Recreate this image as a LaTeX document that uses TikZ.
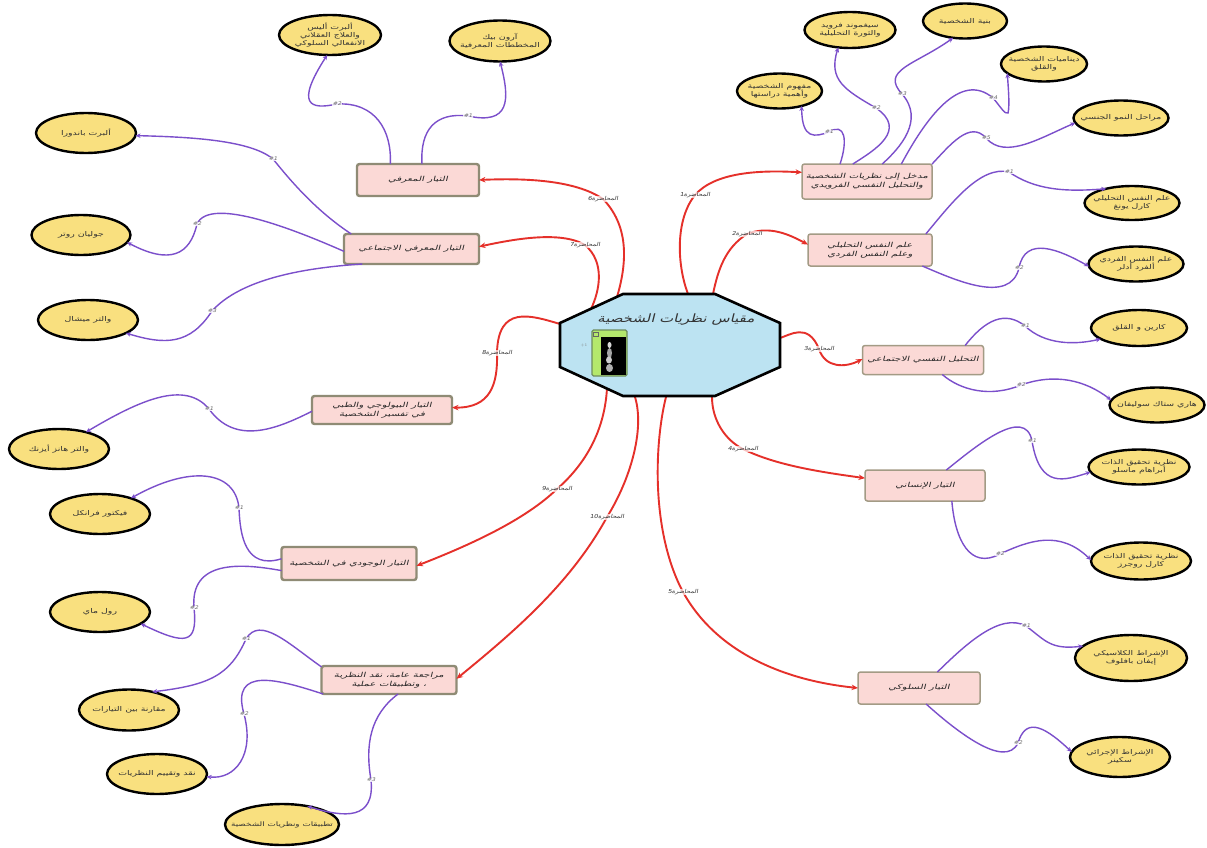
\documentclass[tikz,border=0pt]{standalone}
\usepackage{fontspec}
\usetikzlibrary{shapes.geometric,arrows.meta}
\TeXXeTstate=1
\newfontfamily\arleaf[Script=Arabic,FakeStretch=1.42]{DejaVu Sans}
\newfontfamily\arbox[Script=Arabic,FakeStretch=1.5,FakeSlant=0.25]{DejaVu Sans}
\newfontfamily\arhub[Script=Arabic,FakeStretch=1.3,FakeSlant=0.25]{DejaVu Sans}
\newfontfamily\artiny[Script=Arabic,FakeStretch=1.2,FakeSlant=0.2]{DejaVu Sans}
\newcommand\artxt[1]{\beginR #1\endR}
\newcommand\lectxt[1]{\beginR المحاضرة\beginL #1\endL\endR}
\pgfdeclarelayer{lab}
\pgfsetlayers{main,lab}
\definecolor{hubfill}{HTML}{BCE3F2}
\definecolor{boxfill}{HTML}{FBD9D6}
\definecolor{boxline}{HTML}{A39B85}
\definecolor{boxdark}{HTML}{8F8B75}
\definecolor{leaffill}{HTML}{F9E07F}
\definecolor{redline}{HTML}{E5302A}
\definecolor{purpline}{HTML}{7B4FCB}
\definecolor{tile}{HTML}{B4E86C}
\definecolor{tileline}{HTML}{6E8C5E}
\tikzset{
  dims/.style 2 args={minimum width=#1pt,minimum height=#2pt},
  leaf/.style={ellipse,draw=black,fill=leaffill,line width=2.4pt,inner xsep=-25pt,inner ysep=-12pt,outer sep=0pt,align=center,font=\arleaf\fontsize{6.6}{8.4}\selectfont,text=black!80},
  softbox/.style={rectangle,rounded corners=2.5pt,draw=boxline,fill=boxfill,line width=1.5pt,inner sep=0pt,outer sep=0pt,align=center,font=\arbox\fontsize{6.9}{8.8}\selectfont,text=black!85},
  hardbox/.style={softbox,draw=boxdark,line width=2.4pt},
  redlink/.style={draw=redline,line width=1.9pt,-{Stealth[length=6.5pt,width=5.5pt]}},
  purplink/.style={draw=purpline,line width=1.4pt,-{Stealth[length=5pt,width=4.5pt]}},
  lect/.style={font=\artiny\fontsize{5.4}{6}\selectfont,text=black!80,fill=white,fill opacity=.7,text opacity=1,inner sep=.4pt},
  sublab/.style={font=\artiny\fontsize{5}{6}\selectfont,text=black!60,fill=white,fill opacity=.8,text opacity=1,inner sep=.4pt},
}
\begin{document}
\begin{tikzpicture}[x=1pt,y=-1pt]
\useasboundingbox (0,0) rectangle (1207,848);
\fill[white] (0,0) rectangle (1207,848);
\coordinate (p1) at (688,294); \coordinate (p2) at (713,294); \coordinate (p3) at (780,338);
\coordinate (p4) at (712,397); \coordinate (p5) at (666,397); \coordinate (p6) at (617,297);
\coordinate (p7) at (591,309); \coordinate (p8) at (560,324); \coordinate (p9) at (607,388);
\coordinate (p10) at (635,397);
\begin{pgfonlayer}{lab}
% hub
\draw[fill=hubfill,draw=black,line width=2.6pt,line join=miter]
  (560,323) -- (623,294) -- (715,294) -- (780,323) -- (780,367) -- (715,396) -- (623,396) -- (560,367) -- cycle;
\node[font=\arhub\fontsize{11.5}{14}\selectfont,text=black!80,inner sep=0pt] (hub) at (676,320) {\artxt{مقياس نظريات الشخصية}};
% tile
\draw[fill=tile,draw=tileline,line width=1.3pt,rounded corners=1.5pt] (592,330) rectangle (627,376);
\fill[black] (601,337) rectangle (626,375);
\draw[draw=black!60,line width=.4pt] (593,332) rectangle (598,336);
\fill[black!15] (609.5,345) ellipse (2pt and 3pt);
\fill[black!35] (609.5,353) ellipse (2.5pt and 5pt);
\fill[black!20] (609,360) ellipse (3pt and 3.5pt);
\fill[black!30] (609.5,368) ellipse (3.5pt and 4pt);
\node[font=\fontsize{4}{5}\selectfont,text=black!50,inner sep=0pt] (plus) at (584,345) {+1};
% lecture labels
\node[lect] (l1) at (695,195) {\lectxt{1}};
\node[lect] (l2) at (747,234) {\lectxt{2}};
\node[lect] (l3) at (819,349) {\lectxt{3}};
\node[lect] (l4) at (743,449) {\lectxt{4}};
\node[lect] (l5) at (683,592) {\lectxt{5}};
\node[lect] (l6) at (603,199) {\lectxt{6}};
\node[lect] (l7) at (585,245) {\lectxt{7}};
\node[lect] (l8) at (497,353) {\lectxt{8}};
\node[lect] (l9) at (557,489) {\lectxt{9}};
\node[lect] (l10) at (607,517) {\lectxt{10}};
% sub labels
\node[sublab] (a1) at (829,132) {\#1};
\node[sublab] (a2) at (876,108) {\#2};
\node[sublab] (a3) at (902,94) {\#3};
\node[sublab] (a4) at (993,98) {\#4};
\node[sublab] (a5) at (986,138) {\#5};
\node[sublab] (b1) at (1009,172) {\#1};
\node[sublab] (b2) at (1019,268) {\#2};
\node[sublab] (c1) at (1025,326) {\#1};
\node[sublab] (c2) at (1021,385) {\#2};
\node[sublab] (d1) at (1032,441) {\#1};
\node[sublab] (d2) at (1000,554) {\#2};
\node[sublab] (f1) at (1026,626) {\#1};
\node[sublab] (f2) at (1018,743) {\#2};
\node[sublab] (g1) at (337,104) {\#2};
\node[sublab] (g2) at (468,116) {\#1};
\node[sublab] (h1) at (273,159) {\#1};
\node[sublab] (h2) at (197,224) {\#2};
\node[sublab] (h3) at (212,311) {\#3};
\node[sublab] (i1) at (209,409) {\#1};
\node[sublab] (j1) at (239,508) {\#1};
\node[sublab] (j2) at (194,608) {\#2};
\node[sublab] (k1) at (246,639) {\#1};
\node[sublab] (k2) at (244,714) {\#2};
\node[sublab] (k3) at (371,780) {\#3};
\end{pgfonlayer}
% boxes
\node[softbox,dims={130}{35}] (intro) at (867,181.5) {\artxt{مدخل إلى نظريات الشخصية}\\\artxt{والتحليل النفسي الفرويدي}};
\node[softbox,dims={124}{32}] (jungadler) at (870,250) {\artxt{علم النفس التحليلي}\\\artxt{وعلم النفس الفردي}};
\node[softbox,dims={121}{29}] (psysoc) at (923,360) {\artxt{التحليل النفسي الاجتماعي}};
\node[softbox,dims={120}{31}] (human) at (925,485.5) {\artxt{التيار الإنساني}};
\node[softbox,dims={122}{32}] (behav) at (919,688) {\artxt{التيار السلوكي}};
\node[hardbox,dims={122}{32}] (cog) at (418,180) {\artxt{التيار المعرفي}};
\node[hardbox,dims={135}{30}] (cogsoc) at (411.5,249) {\artxt{التيار المعرفي الاجتماعي}};
\node[hardbox,dims={140}{28}] (bio) at (382,410) {\artxt{التيار البيولوجي والطبي}\\\artxt{في تفسير الشخصية}};
\node[hardbox,dims={135}{33}] (exist) at (349,563.5) {\artxt{التيار الوجودي في الشخصية}};
\node[hardbox,dims={135}{28}] (review) at (389,680) {\artxt{مراجعة عامة، نقد النظرية}\\\artxt{، وتطبيقات عملية}};
% leaves
\node[leaf,dims={85}{35}] (mafhum) at (779.5,91) {\artxt{مفهوم الشخصية}\\\artxt{وأهمية دراستها}};
\node[leaf,dims={91}{36}] (sigmund) at (850,30) {\artxt{سيغموند فرويد}\\\artxt{والثورة التحليلية}};
\node[leaf,dims={84}{35}] (binya) at (965,21) {\artxt{بنية الشخصية}};
\node[leaf,dims={86}{35}] (dyn) at (1044,64) {\artxt{ديناميات الشخصية}\\\artxt{والقلق}};
\node[leaf,dims={95}{35}] (marahil) at (1121,118) {\artxt{مراحل النمو الجنسي}};
\node[leaf,dims={95}{34}] (jung) at (1132,203) {\artxt{علم النفس التحليلي}\\\artxt{كارل يونغ}};
\node[leaf,dims={95}{35}] (adler) at (1136,264) {\artxt{علم النفس الفردي}\\\artxt{ألفرد أدلر}};
\node[leaf,dims={96}{36}] (horney) at (1139,328) {\artxt{كارين و القلق}};
\node[leaf,dims={95}{35}] (sullivan) at (1157,405) {\artxt{هاري ستاك سوليفان}};
\node[leaf,dims={101}{35}] (maslow) at (1139,467) {\artxt{نظرية تحقيق الذات}\\\artxt{أبراهام ماسلو}};
\node[leaf,dims={100}{37}] (rogers) at (1141,561) {\artxt{نظرية تحقيق الذات}\\\artxt{كارل روجرز}};
\node[leaf,dims={112}{46}] (pavlov) at (1131,658) {\artxt{الإشراط الكلاسيكي}\\\artxt{إيفان بافلوف}};
\node[leaf,dims={100}{40}] (skinner) at (1120,757) {\artxt{الإشراط الإجرائي}\\\artxt{سكينر}};
\node[leaf,dims={102}{40}] (ellis) at (330,35) {\artxt{ألبرت أليس}\\\artxt{والعلاج العقلاني}\\\artxt{الانفعالي السلوكي}};
\node[leaf,dims={101}{41}] (beck) at (500,41) {\artxt{آرون بيك}\\\artxt{المخططات المعرفية}};
\node[leaf,dims={100}{40}] (bandura) at (86,133) {\artxt{ألبرت باندورا}};
\node[leaf,dims={99}{40}] (rotter) at (81,235) {\artxt{جوليان روتر}};
\node[leaf,dims={100}{40}] (mischel) at (88,320) {\artxt{والتر ميشال}};
\node[leaf,dims={100}{40}] (eysenck) at (59,449) {\artxt{والتر هانز أيزنك}};
\node[leaf,dims={100}{40}] (frankl) at (100,514) {\artxt{فيكتور فرانكل}};
\node[leaf,dims={100}{40}] (may) at (100,612) {\artxt{رول ماي}};
\node[leaf,dims={100}{41}] (compare) at (129,710) {\artxt{مقارنة بين التيارات}};
\node[leaf,dims={100}{40}] (critique) at (157,774) {\artxt{نقد وتقييم النظريات}};
\node[leaf,dims={114}{41},font=\arleaf\fontsize{6.2}{8}\selectfont] (apps) at (282,824.5) {\artxt{تطبيقات ونظريات الشخصية}};
% red connectors
\draw[redlink] (p1) .. controls (677,265) and (675,220) .. (l1.center) .. controls (715,172) and (760,170) .. (intro.172);
\draw[redlink] (p2) .. controls (718,270) and (725,248) .. (l2.center) .. controls (770,225) and (790,235) .. (jungadler.175);
\draw[redlink] (p3) .. controls (790,335) and (808,322) .. (l3.center) .. controls (825,368) and (845,368) .. (psysoc.179);
\draw[redlink] (p4) .. controls (712,420) and (725,440) .. (l4.center) .. controls (775,465) and (820,472) .. (human.173);
\draw[redlink] (p5) .. controls (655,440) and (650,530) .. (l5.center) .. controls (715,650) and (780,680) .. (behav.180);
\draw[redlink] (p6) .. controls (628,260) and (628,225) .. (l6.center) .. controls (575,180) and (525,178) .. (cog.0);
\draw[redlink] (p7) .. controls (600,290) and (605,262) .. (l7.center) .. controls (560,230) and (510,240) .. (cogsoc.2.5);
\draw[redlink] (p8) .. controls (530,315) and (498,305) .. (l8.center) .. controls (498,385) and (490,408) .. (bio.2);
\draw[redlink] (p9) .. controls (605,425) and (590,460) .. (l9.center) .. controls (525,520) and (470,545) .. (exist.-2);
\draw[redlink] (p10) .. controls (645,430) and (630,480) .. (l10.center) .. controls (570,585) and (510,635) .. (review.1);
% purple connectors
\draw[purplink] (intro.147) .. controls (848,140) and (845,122) .. (a1.center) .. controls (815,137) and (802,140) .. (mafhum.-34);
\draw[purplink] (intro.129) .. controls (875,150) and (908,130) .. (a2.center) .. controls (845,90) and (828,80) .. (sigmund.236);
\draw[purplink] (intro.49) .. controls (900,148) and (925,120) .. (a3.center) .. controls (880,70) and (915,65) .. (binya.235);
\draw[purplink] (intro.27) .. controls (925,120) and (960,70) .. (a4.center) .. controls (1000,106) and (1005,115) .. (1008,113) .. controls (1010,105) and (1008,85) .. (dyn.194);
\draw[purplink] (intro.15) .. controls (950,145) and (970,120) .. (a5.center) .. controls (1005,160) and (1040,138) .. (marahil.186);
\draw[purplink] (jungadler.16.5) .. controls (950,205) and (980,165) .. (b1.center) .. controls (1035,190) and (1065,192) .. (jung.151);
\draw[purplink] (jungadler.-17) .. controls (955,280) and (1010,305) .. (b2.center) .. controls (1025,235) and (1060,250) .. (adler.183.5);
\draw[purplink] (psysoc.19) .. controls (985,320) and (1005,310) .. (c1.center) .. controls (1045,345) and (1075,345) .. (horney.196);
\draw[purplink] (psysoc.-37) .. controls (960,390) and (990,398) .. (c2.center) .. controls (1055,373) and (1085,380) .. (sullivan.174);
\draw[purplink] (human.36.4) .. controls (975,447) and (1025,405) .. (d1.center) .. controls (1040,490) and (1065,480) .. (maslow.186);
\draw[purplink] (human.-30) .. controls (955,540) and (970,570) .. (d2.center) .. controls (1030,540) and (1060,530) .. (rogers.179);
\draw[purplink] (behav.41.6) .. controls (965,645) and (1000,612) .. (f1.center) .. controls (1045,640) and (1050,650) .. (pavlov.166);
\draw[purplink] (behav.-66) .. controls (955,730) and (1005,770) .. (f2.center) .. controls (1025,720) and (1040,722) .. (skinner.174);
\draw[purplink] (cog.150) .. controls (392,130) and (375,102) .. (g1.center) .. controls (310,110) and (295,105) .. (ellis.262);
\draw[purplink] (cog.76) .. controls (420,130) and (435,112) .. (g2.center) .. controls (510,125) and (510,100) .. (beck.270);
\draw[purplink] (cogsoc.166) .. controls (315,210) and (290,180) .. (h1.center) .. controls (250,140) and (190,137) .. (bandura.-3.5);
\draw[purplink] (cogsoc.182.5) .. controls (300,232) and (210,195) .. (h2.center) .. controls (190,255) and (170,265) .. (rotter.-9.5);
\draw[purplink] (cogsoc.197) .. controls (300,268) and (240,280) .. (h3.center) .. controls (190,345) and (165,345) .. (mischel.-19);
\draw[purplink] (bio.181) .. controls (275,430) and (235,445) .. (i1.center) .. controls (185,380) and (140,400) .. (eysenck.32);
\draw[purplink] (exist.176) .. controls (245,570) and (240,535) .. (j1.center) .. controls (235,470) and (190,465) .. (frankl.27);
\draw[purplink] (exist.186) .. controls (240,563) and (190,560) .. (j2.center) .. controls (198,645) and (185,645) .. (may.-16);
\draw[purplink] (review.169) .. controls (290,645) and (260,615) .. (k1.center) .. controls (230,675) and (210,685) .. (compare.38);
\draw[purplink] (review.192) .. controls (280,680) and (230,665) .. (k2.center) .. controls (255,755) and (235,780) .. (critique.-3);
\draw[purplink] (review.-57) .. controls (370,715) and (365,745) .. (k3.center) .. controls (375,820) and (345,818) .. (apps.36);
\end{tikzpicture}
\end{document}
